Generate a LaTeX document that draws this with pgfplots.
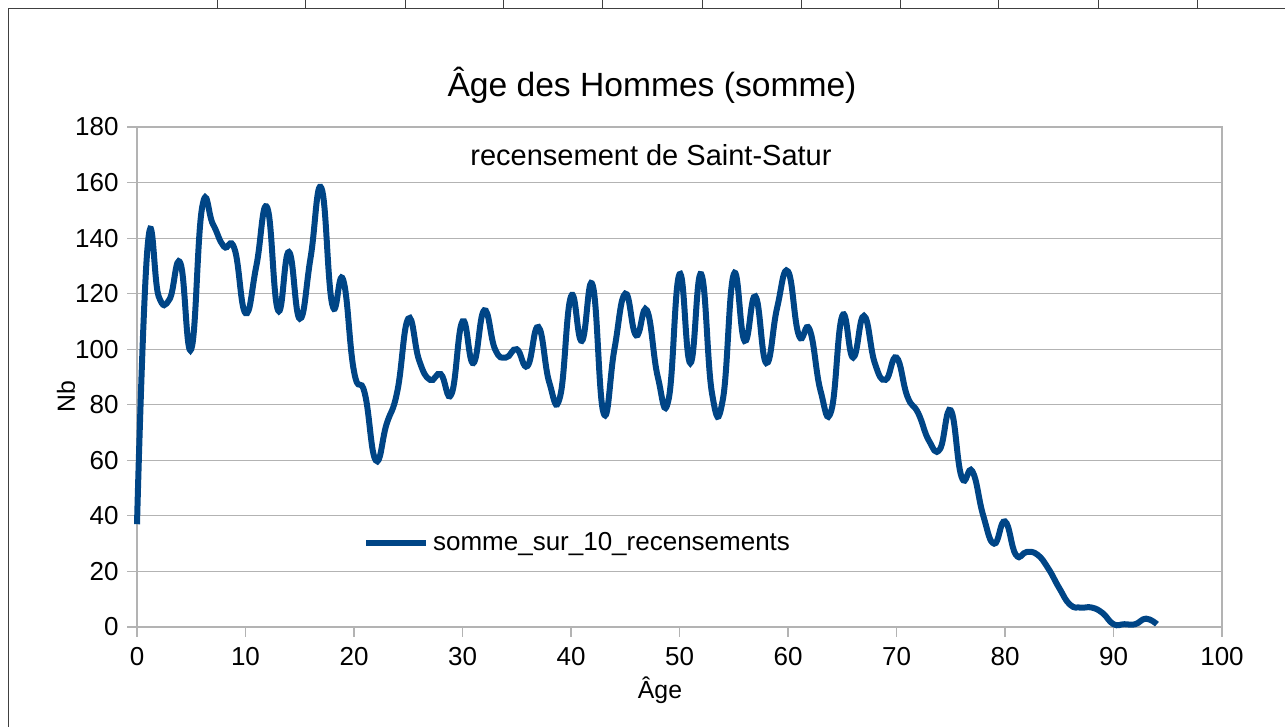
\documentclass[border=0pt]{standalone}
\usepackage{pgfplots}
\pgfplotsset{compat=1.18}
\usepackage{fontspec}
\setmainfont{Liberation Sans}
\definecolor{lineblue}{HTML}{004586}
\definecolor{gridgray}{HTML}{B3B3B3}
\pgfplotstableread{
age nb
0 37
1 138
2 119
3 118
4 131
5 100
6 151
7 145
8 137
9 136
10 113
11 130
12 151
13 114
14 135
15 111
16 133
17 158
18 116
19 125
20 92
21 84
22 60
23 73
24 85
25 111
26 96
27 89
28 91
29 84
30 110
31 95
32 114
33 100
34 97
35 100
36 94
37 108
38 88
39 83
40 119
41 103
42 123
43 77
44 100
45 120
46 105
47 114
48 90
49 82
50 127
51 95
52 127
53 84
54 82
55 127
56 103
57 119
58 95
59 115
60 128
61 105
62 107
63 85
64 78
65 112
66 97
67 112
68 95
69 89
70 97
71 83
72 77
73 67
74 64
75 78
76 54
77 56
78 40
79 30
80 38
81 26
82 27
83 26
84 21
85 14
86 8
87 7
88 7
89 5
90 1
91 1
92 1
93 3
94 1
}\agedata
\begin{document}
\begin{tikzpicture}[x=1pt,y=1pt]
\path[use as bounding box] (0,0) rectangle (642.5,363.5);
% spreadsheet cell frame
\draw[black!75, line width=0.7pt] (4,359.2) -- (642.5,359.2);
\draw[black!75, line width=0.5pt] (4,0) -- (4,359.2);
\foreach \xx in {108.5,152.5,202.5,251.5,301,351,400.5,450,499,549,598.5}
  \draw[black!75, line width=0.5pt] (\xx,359.2) -- (\xx,363.5);
\begin{axis}[
  at={(68.5pt,50pt)}, anchor=south west,
  scale only axis, width=542.5pt, height=250pt,
  xmin=0, xmax=100, ymin=0, ymax=180,
  xtick={0,10,...,100}, ytick={0,20,...,180},
  xtick pos=left, ytick pos=left,
  ymajorgrids, major grid style={gridgray, line width=0.6pt},
  axis line style={gridgray, line width=0.6pt},
  tick style={gridgray, line width=0.6pt},
  tick align=outside, major tick length=5pt,
  /pgf/number format/assume math mode=true,
  ticklabel style={font=\fontsize{13}{15}\selectfont, text=black},
  xticklabel style={inner sep=0pt, yshift=-5pt},
  yticklabel style={inner sep=0pt, xshift=-4pt},
  legend style={at={(0.208,0.168)}, anchor=west, draw=none, fill=none,
    font=\fontsize{13}{15}\selectfont, inner xsep=0pt},
  legend image code/.code={\draw[#1] (0pt,0pt) -- (30pt,0pt);},
  clip=false,
]
\addplot[lineblue, line width=3pt, smooth, tension=0.8] table[x=age, y=nb] {\agedata};
\addlegendentry{somme\_sur\_10\_recensements}
\end{axis}
\node[font=\fontsize{16.8}{19}\selectfont] at (326,321) {Âge des Hommes (somme)};
\node[font=\fontsize{14.5}{17}\selectfont] at (325.5,286) {recensement de Saint-Satur};
\node[font=\fontsize{12.4}{14}\selectfont, rotate=90] at (33,165) {Nb};
\node[font=\fontsize{12.4}{14}\selectfont] at (330,18.5) {Âge};
\end{tikzpicture}
\end{document}
